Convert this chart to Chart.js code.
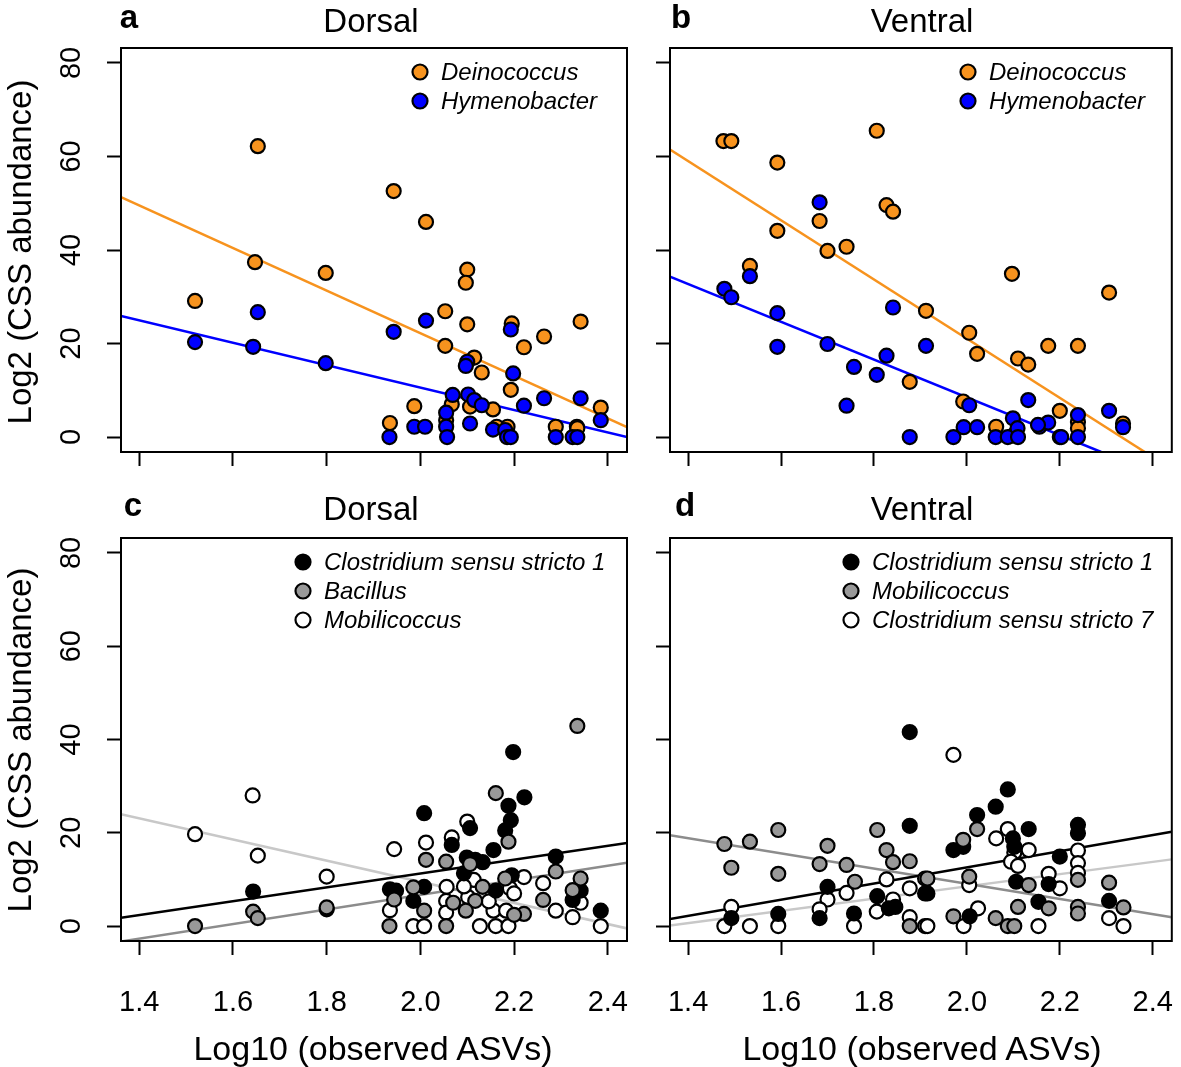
<!DOCTYPE html>
<html>
<head>
<meta charset="utf-8">
<script src="https://cdn.jsdelivr.net/npm/chart.js"></script>
<style>
  body { margin: 0; background: #fff; }
  #wrap { position: relative; width: 1181px; height: 1067px; background: #fff; overflow: hidden; }
  canvas { position: absolute; }
  .t { position: absolute; white-space: nowrap; line-height: 1; color: #000;
       font-family: 'Liberation Sans', Arial, Helvetica, sans-serif; }
</style>
</head>
<body>
<div id="wrap">
  <canvas id="pa" width="640" height="480" style="left:0;top:0"></canvas>
  <canvas id="pb" width="621" height="480" style="left:560px;top:0"></canvas>
  <canvas id="pc" width="640" height="577" style="left:0;top:490px"></canvas>
  <canvas id="pd" width="621" height="577" style="left:560px;top:490px"></canvas>
</div>
<script>
// axes
const xTicks = [1.4, 1.6, 1.8, 2.0, 2.2, 2.4];
const yTicks = [0, 20, 40, 60, 80];
const xRange = [1.361, 2.441];
const yRange = [-3.2, 83.2];

// panel a - dorsal
const aDeinoX = [1.519, 1.647, 1.653, 1.798, 1.943, 2.012, 1.935, 1.987, 2.053, 2.053, 2.100, 2.097, 2.100, 2.115, 2.131, 2.067, 2.106, 2.155, 2.195, 2.193, 2.221, 2.264, 2.342, 2.385, 2.289, 2.334, 2.186, 2.163, 2.335, 2.055];
const aDeinoY = [29.1, 37.4, 62.2, 35.1, 52.6, 46.0, 3.0, 6.6, 26.9, 19.5, 35.8, 33.0, 24.1, 17.0, 13.8, 7.0, 6.5, 5.9, 24.3, 10.1, 19.2, 21.5, 24.7, 6.3, 2.2, 2.2, 2.2, 2.2, 1.9, 3.6];
const aHymenoX = [1.519, 1.643, 1.653, 1.798, 1.943, 2.012, 1.934, 1.987, 2.010, 2.055, 2.055, 2.057, 2.069, 2.102, 2.115, 2.106, 2.100, 2.097, 2.131, 2.155, 2.181, 2.185, 2.193, 2.193, 2.198, 2.221, 2.264, 2.289, 2.325, 2.335, 2.342, 2.385];
const aHymenoY = [20.3, 19.3, 26.7, 15.8, 22.5, 24.9, 0, 2.2, 2.2, 5.2, 2.2, 0, 9.0, 9.1, 7.9, 2.9, 16.1, 15.2, 6.8, 1.6, 1.5, 0, 0, 23.0, 13.6, 6.7, 8.3, 0, 0, 0, 8.3, 3.6];
const aDeinoFit = [[1.361, 51.3], [2.441, 2.1]];
const aHymenoFit = [[1.361, 25.9], [2.441, 0.0]];

// panel b - ventral
const bDeinoX = [1.476, 1.493, 1.592, 1.806, 1.683, 1.592, 1.700, 1.741, 1.827, 1.841, 1.533, 1.877, 1.912, 2.005, 2.022, 2.097, 2.110, 2.132, 2.175, 2.239, 2.306, 2.200, 1.992, 2.063, 2.239, 2.239, 2.336, 2.099];
const bDeinoY = [63.3, 63.3, 58.7, 65.5, 46.2, 44.1, 39.8, 40.7, 49.6, 48.2, 36.6, 11.8, 27.0, 22.3, 17.8, 34.9, 16.8, 15.5, 19.5, 19.5, 30.9, 5.6, 7.6, 2.2, 3.2, 1.9, 2.9, 0.3];
const bHymenoX = [1.683, 1.533, 1.478, 1.493, 1.592, 1.592, 1.700, 1.757, 1.741, 1.806, 1.827, 1.841, 1.877, 1.912, 2.005, 2.132, 1.971, 1.993, 2.022, 2.062, 2.088, 2.099, 2.109, 2.156, 2.175, 2.200, 2.239, 2.239, 2.306, 2.336, 2.153, 2.203, 2.110];
const bHymenoY = [50.2, 34.4, 31.7, 29.9, 26.5, 19.3, 19.9, 15.0, 6.7, 13.3, 17.4, 27.7, 0, 19.5, 6.8, 7.9, 0, 2.1, 2.1, 0, 0, 4.0, 1.9, 2.2, 3.1, 0, 4.7, 0, 5.6, 2.1, 2.6, 0, 0];
const bDeinoFit = [[1.361, 61.5], [2.383, -3.2]];
const bHymenoFit = [[1.361, 34.3], [2.289, -3.2]];

// panel c - dorsal
const cClos1X = [1.643, 2.198, 2.222, 2.188, 2.193, 2.181, 2.008, 2.106, 2.067, 2.156, 2.099, 2.117, 2.133, 2.289, 2.093, 1.935, 1.948, 2.008, 1.985, 2.161, 2.195, 2.342, 2.325, 2.385, 1.800];
const cClos1Y = [7.4, 37.3, 27.6, 25.8, 22.7, 20.5, 24.2, 21.0, 17.4, 16.3, 14.7, 14.2, 13.7, 14.9, 11.3, 7.9, 7.6, 8.4, 5.4, 7.6, 10.9, 7.6, 5.6, 3.3, 3.6];
const cBaciX = [1.643, 1.653, 1.519, 1.800, 2.335, 2.161, 2.188, 2.012, 2.055, 2.106, 2.289, 1.944, 1.934, 1.985, 2.008, 2.070, 2.055, 2.117, 2.097, 2.133, 2.221, 2.181, 2.262, 2.342, 2.325, 2.200];
const cBaciY = [3.1, 1.7, 0, 4.0, 42.9, 28.5, 18.1, 14.2, 13.8, 13.3, 11.7, 5.7, 0, 8.3, 3.3, 5.0, 0, 5.4, 3.3, 8.4, 2.6, 10.2, 5.6, 10.2, 7.7, 2.4];
const cMobiX = [1.642, 1.519, 1.653, 1.800, 2.100, 1.944, 2.012, 2.067, 2.114, 1.935, 1.985, 2.008, 2.056, 2.055, 2.055, 2.102, 2.127, 2.161, 2.188, 2.156, 2.183, 2.191, 2.221, 2.200, 2.262, 2.289, 2.342, 2.325, 2.385, 2.093, 2.146];
const cMobiY = [28.0, 19.7, 15.1, 10.6, 22.4, 16.5, 17.9, 19.0, 9.9, 3.4, 0, 0, 8.4, 5.4, 2.9, 6.2, 0, 0, 0, 3.3, 3.3, 8.1, 10.5, 7.0, 9.2, 3.3, 5.0, 1.9, 0, 8.5, 5.3];
const cClos1Fit = [[1.361, 1.8], [2.441, 17.8]];
const cBaciFit = [[1.361, -3.3], [2.441, 13.6]];
const cMobiFit = [[1.361, 24.0], [2.441, -0.5]];

// panel d - ventral
const dClos1X = [1.877, 1.877, 1.700, 1.683, 1.493, 1.594, 1.757, 1.807, 1.832, 1.846, 1.910, 2.088, 2.062, 2.022, 1.971, 1.992, 2.099, 2.133, 2.102, 2.200, 2.239, 2.239, 1.915, 2.106, 2.176, 2.306, 2.154, 2.006];
const dClos1Y = [41.6, 21.5, 8.4, 1.7, 1.7, 2.6, 2.7, 6.4, 3.8, 4.1, 7.0, 29.3, 25.6, 23.8, 16.3, 17.0, 18.8, 20.8, 17.0, 14.9, 21.7, 19.9, 7.0, 9.5, 9.0, 5.4, 5.2, 2.1];
const dMobiX = [1.478, 1.533, 1.594, 1.493, 1.594, 1.807, 1.700, 1.683, 1.741, 1.827, 1.841, 1.877, 1.759, 1.877, 1.910, 2.022, 1.992, 2.239, 1.915, 2.005, 2.133, 2.306, 2.337, 2.176, 2.239, 2.239, 2.110, 1.971, 2.062, 2.088, 2.102];
const dMobiY = [17.6, 18.1, 20.6, 12.5, 11.2, 20.6, 17.2, 13.3, 13.1, 16.3, 13.7, 13.9, 9.5, 0, 10.2, 20.8, 18.5, 9.9, 10.2, 10.6, 8.8, 9.3, 4.0, 3.8, 4.1, 2.7, 4.1, 2.1, 1.7, 0, 0];
const dClos7X = [1.741, 1.700, 1.683, 1.493, 1.478, 1.533, 1.594, 1.757, 1.827, 1.806, 1.841, 1.877, 1.877, 1.910, 1.971, 2.063, 2.088, 2.133, 2.102, 2.095, 2.110, 2.239, 2.239, 2.239, 2.005, 2.176, 2.200, 2.306, 2.337, 2.024, 1.993, 2.154, 1.915];
const dClos7Y = [7.1, 5.7, 3.6, 4.1, 0, 0, 0, 0, 10.0, 3.1, 5.7, 8.1, 1.9, 0, 36.7, 18.8, 20.8, 16.3, 15.8, 13.8, 12.9, 16.2, 13.5, 11.4, 8.8, 11.2, 8.1, 1.7, 0, 3.8, 0, 0, 0];
const dClos1Fit = [[1.361, 1.5], [2.441, 20.2]];
const dMobiFit = [[1.361, 19.5], [2.441, 1.9]];
const dClos7Fit = [[1.361, 0.1], [2.441, 14.3]];

const FONT = "'Liberation Sans', Arial, Helvetica, sans-serif";
const ORANGE = '#f7931e', BLUE = '#0000ff', GREY = '#999999', DGREY = '#8c8c8c', LGREY = '#c8c8c8';

function pts(xs, ys) {
    return xs.map((x, i) => ({ x: x, y: ys[i] }));
}

function pointSet(label, xs, ys, fill, order) {
    return {
        label: label, data: pts(xs, ys), order: order,
        pointRadius: 7, pointBorderWidth: 2.2,
        pointBackgroundColor: fill, pointBorderColor: '#000', showLine: false
    };
}

function lineSet(fit, color) {
    return {
        type: 'line', data: fit.map(p => ({ x: p[0], y: p[1] })), order: 100,
        borderColor: color, borderWidth: 2.5, pointRadius: 0, fill: false
    };
}

// black frame round the plot region
const boxPlugin = {
    id: 'rbox',
    afterDraw(chart) {
        const a = chart.chartArea, ctx = chart.ctx;
        ctx.save();
        ctx.strokeStyle = '#000';
        ctx.lineWidth = 2;
        ctx.strokeRect(a.left, a.top, a.right - a.left, a.bottom - a.top);
        ctx.restore();
    }
};

// legend inside the plot, top right
const legendPlugin = {
    id: 'rlegend',
    afterDraw(chart, args, opts) {
        const a = chart.chartArea, ctx = chart.ctx;
        ctx.save();
        opts.items.forEach((it, i) => {
            const cx = a.left + opts.dx, cy = a.top + opts.dy + i * 29;
            ctx.beginPath();
            ctx.arc(cx, cy, 7.5, 0, Math.PI * 2);
            ctx.fillStyle = it.fill;
            ctx.fill();
            ctx.lineWidth = 2.2;
            ctx.strokeStyle = '#000';
            ctx.stroke();
            ctx.fillStyle = '#000';
            ctx.font = 'italic 24px ' + FONT;
            ctx.textBaseline = 'middle';
            ctx.textAlign = 'left';
            ctx.fillText(it.text, cx + 21, cy + 1);
        });
        ctx.restore();
    }
};

function panel(id, datasets, legend, o) {
    return new Chart(document.getElementById(id), {
        type: 'scatter',
        data: { datasets: datasets },
        options: {
            responsive: false,
            animation: false,
            layout: { padding: { top: 48, right: o.right, left: 0, bottom: 0 } },
            plugins: {
                legend: { display: false },
                tooltip: { enabled: false },
                rlegend: legend
            },
            scales: {
                x: {
                    type: 'linear', min: xRange[0], max: xRange[1],
                    afterBuildTicks: s => { s.ticks = xTicks.map(v => ({ value: v })); },
                    afterFit: s => { s.height = o.xh; s.paddingLeft = 0; s.paddingRight = 0; },
                    border: { display: false },
                    grid: { drawOnChartArea: false, drawTicks: true, tickLength: 14, tickWidth: 2, tickColor: '#000' },
                    ticks: {
                        display: o.xLabels, color: '#000', padding: 31, maxRotation: 0, autoSkip: false,
                        font: { family: FONT, size: 29 },
                        callback: v => v.toFixed(1)
                    }
                },
                y: {
                    type: 'linear', min: yRange[0], max: yRange[1],
                    afterBuildTicks: s => { s.ticks = yTicks.map(v => ({ value: v })); },
                    afterFit: s => { s.width = o.yw; s.paddingTop = 0; s.paddingBottom = 0; },
                    border: { display: false },
                    grid: { drawOnChartArea: false, drawTicks: true, tickLength: 14, tickWidth: 2, tickColor: '#000' },
                    ticks: {
                        display: o.yLabels, color: '#000', padding: 19,
                        minRotation: 90, maxRotation: 90, crossAlign: 'center',
                        font: { family: FONT, size: 29 },
                        callback: v => String(v)
                    }
                }
            }
        },
        plugins: [boxPlugin, legendPlugin]
    });
}

panel('pa', [
    lineSet(aDeinoFit, ORANGE), lineSet(aHymenoFit, BLUE),
    pointSet('Hymenobacter', aHymenoX, aHymenoY, BLUE, 1),
    pointSet('Deinococcus', aDeinoX, aDeinoY, ORANGE, 2)
], { dx: 299, dy: 24, items: [{ text: 'Deinococcus', fill: ORANGE }, { text: 'Hymenobacter', fill: BLUE }] },
   { right: 13, xh: 28, yw: 121, xLabels: false, yLabels: true });

panel('pb', [
    lineSet(bDeinoFit, ORANGE), lineSet(bHymenoFit, BLUE),
    pointSet('Hymenobacter', bHymenoX, bHymenoY, BLUE, 1),
    pointSet('Deinococcus', bDeinoX, bDeinoY, ORANGE, 2)
], { dx: 298, dy: 24, items: [{ text: 'Deinococcus', fill: ORANGE }, { text: 'Hymenobacter', fill: BLUE }] },
   { right: 6, xh: 28, yw: 110, xLabels: false, yLabels: false });

panel('pc', [
    lineSet(cClos1Fit, '#000'), lineSet(cBaciFit, DGREY), lineSet(cMobiFit, LGREY),
    pointSet('Bacillus', cBaciX, cBaciY, GREY, 1),
    pointSet('Clostridium sensu stricto 1', cClos1X, cClos1Y, '#000', 2),
    pointSet('Mobilicoccus', cMobiX, cMobiY, '#fff', 3)
], { dx: 182, dy: 24, items: [{ text: 'Clostridium sensu stricto 1', fill: '#000' }, { text: 'Bacillus', fill: GREY }, { text: 'Mobilicoccus', fill: '#fff' }] },
   { right: 13, xh: 126, yw: 121, xLabels: true, yLabels: true });

panel('pd', [
    lineSet(dClos1Fit, '#000'), lineSet(dMobiFit, DGREY), lineSet(dClos7Fit, LGREY),
    pointSet('Mobilicoccus', dMobiX, dMobiY, GREY, 1),
    pointSet('Clostridium sensu stricto 1', dClos1X, dClos1Y, '#000', 2),
    pointSet('Clostridium sensu stricto 7', dClos7X, dClos7Y, '#fff', 3)
], { dx: 181, dy: 24, items: [{ text: 'Clostridium sensu stricto 1', fill: '#000' }, { text: 'Mobilicoccus', fill: GREY }, { text: 'Clostridium sensu stricto 7', fill: '#fff' }] },
   { right: 6, xh: 126, yw: 110, xLabels: true, yLabels: false });

// titles, panel letters, axis titles
const wrap = document.getElementById('wrap');
function text(str, x, baseline, size, extra) {
    const d = document.createElement('div');
    d.className = 't';
    d.textContent = str;
    d.style.fontSize = size + 'px';
    d.style.left = x + 'px';
    d.style.top = (baseline - 0.8465 * size) + 'px';
    d.style.transform = 'translateX(-50%)';
    if (extra) d.style.fontWeight = extra;
    wrap.appendChild(d);
}
function vtext(str, cx, cy, size) {
    const d = document.createElement('div');
    d.className = 't';
    d.textContent = str;
    d.style.fontSize = size + 'px';
    d.style.left = cx + 'px';
    d.style.top = cy + 'px';
    d.style.transform = 'translate(-50%, -50%) rotate(-90deg)';
    wrap.appendChild(d);
}

text('a', 129, 28, 33, 'bold');
text('b', 681, 28, 33, 'bold');
text('c', 133, 516, 33, 'bold');
text('d', 685, 516, 33, 'bold');
text('Dorsal', 371, 32, 33);
text('Ventral', 922, 32, 33);
text('Dorsal', 371, 520, 33);
text('Ventral', 922, 520, 33);
text('Log10 (observed ASVs)', 373, 1060, 34);
text('Log10 (observed ASVs)', 922, 1060, 34);
vtext('Log2 (CSS abundance)', 19, 252, 33);
vtext('Log2 (CSS abundance)', 19, 740, 33);
</script>
</body>
</html>
